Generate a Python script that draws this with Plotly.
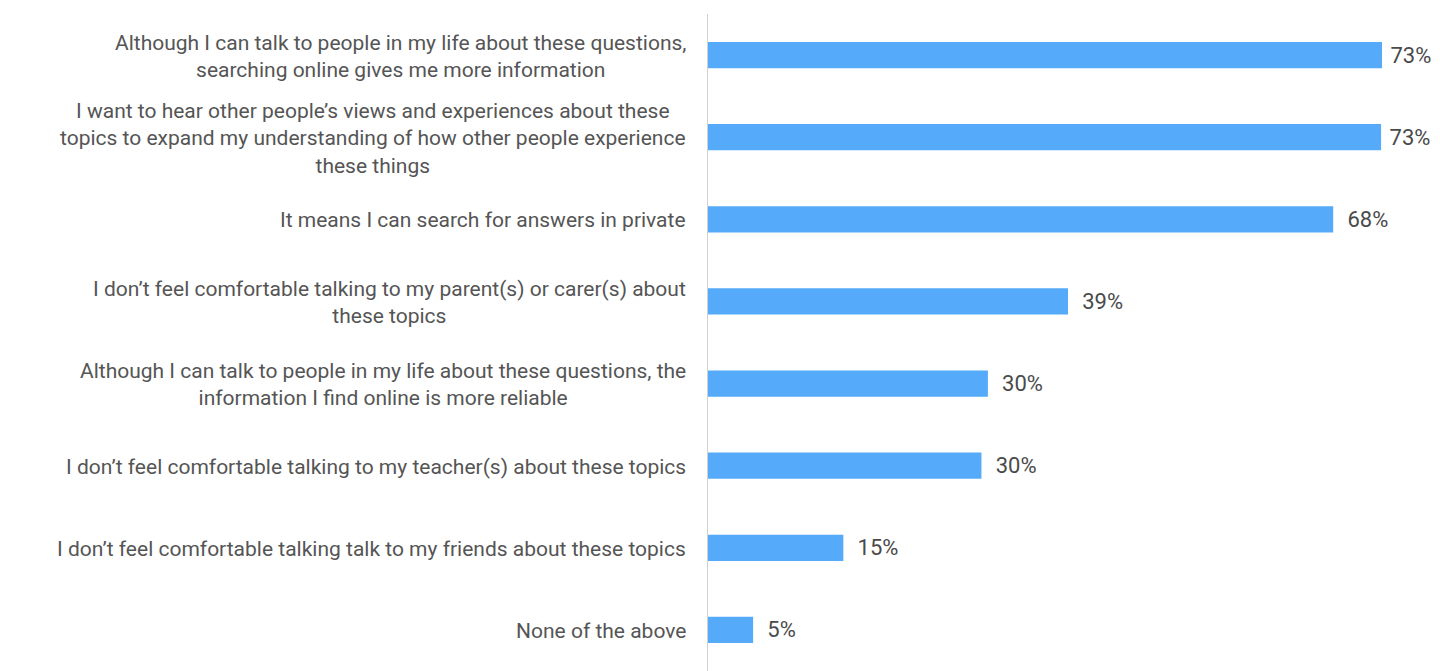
import plotly.graph_objects as go

categories = [
    "Although I can talk to people in my life about these questions,<br>searching online gives me more information",
    "I want to hear other people’s views and experiences about these<br>topics to expand my understanding of how other people experience<br>these things",
    "It means I can search for answers in private",
    "I don’t feel comfortable talking to my parent(s) or carer(s) about<br>these topics",
    "Although I can talk to people in my life about these questions, the<br>information I find online is more reliable",
    "I don’t feel comfortable talking to my teacher(s) about these topics",
    "I don’t feel comfortable talking talk to my friends about these topics",
    "None of the above",
]
values = [73.2, 73.1, 67.9, 39.1, 30.4, 29.7, 14.7, 4.9]
value_labels = ["73%", "73%", "68%", "39%", "30%", "30%", "15%", "5%"]

ids = list(range(len(categories)))

# labels near the right edge sit closer to the bar end (as in the source)
texts = [("\u00a0" if v > 70 else "\u2002") + t for v, t in zip(values, value_labels)]

fig = go.Figure()
fig.add_trace(go.Bar(
    x=values,
    y=ids,
    orientation="h",
    marker=dict(color="#55abf9", line=dict(width=0)),
    width=0.32,
    text=texts,
    textposition="outside",
    constraintext="none",
    cliponaxis=False,
    textfont=dict(family="Roboto", size=22, color="#4a4a4a"),
    hoverinfo="skip",
))

for i, c in zip(ids, categories):
    fig.add_annotation(
        x=0, xref="paper", y=i, yref="y",
        text=c, showarrow=False,
        xanchor="right", yanchor="middle", align="center",
        xshift=-20, yshift=-1,
        font=dict(family="Roboto", size=21, color="#555555"),
    )

fig.update_layout(
    width=1440, height=671,
    margin=dict(l=708, r=0, t=14, b=0),
    paper_bgcolor="white", plot_bgcolor="white",
    showlegend=False,
    xaxis=dict(range=[0, 79.5], showgrid=False, zeroline=False,
               showticklabels=False, showline=False, fixedrange=True),
    yaxis=dict(range=[7.5, -0.5], showgrid=False, zeroline=False,
               showticklabels=False, showline=True, linecolor="#d0d0d0",
               linewidth=1, fixedrange=True),
)

fig.write_html("out.html")
